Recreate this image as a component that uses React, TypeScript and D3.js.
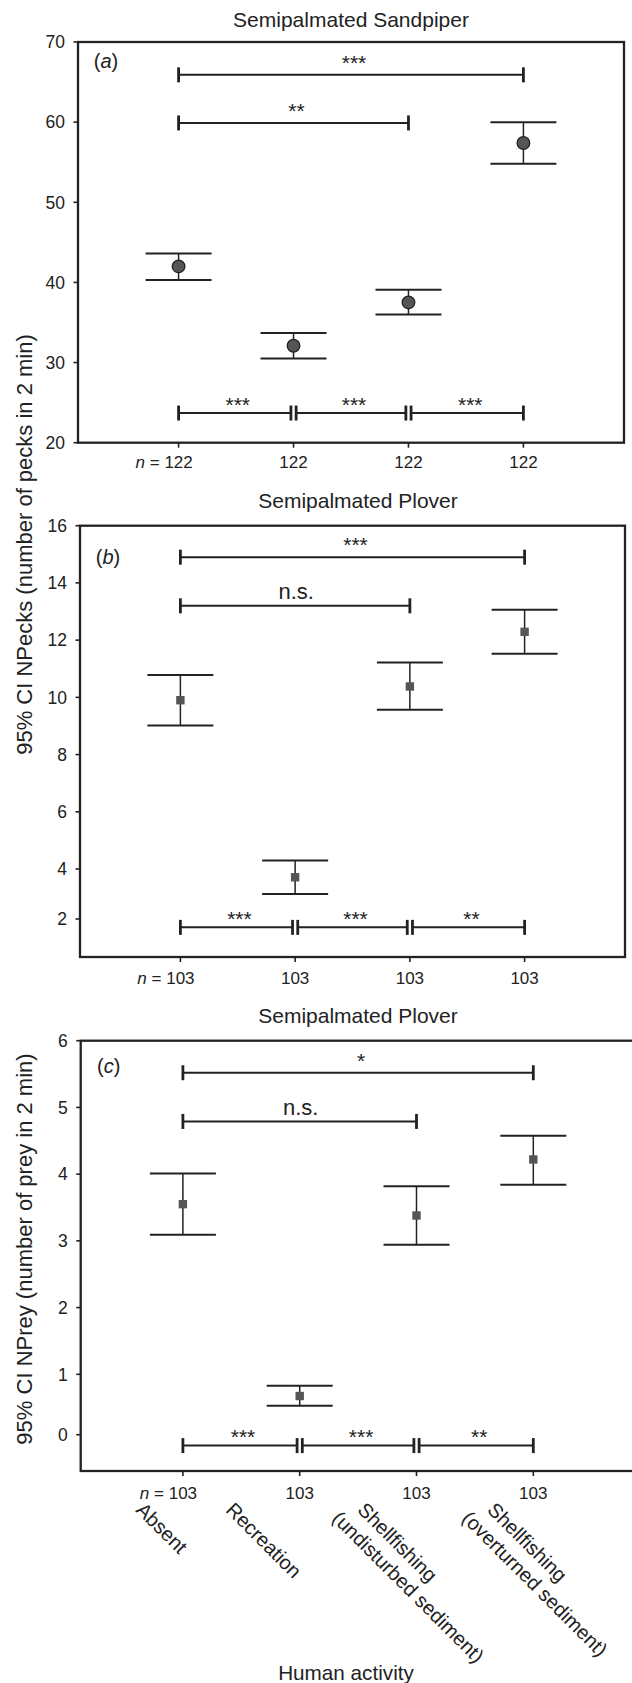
import React from 'react';
import * as d3 from 'd3';

// ---------- data ----------
const categoryLines: string[][] = [
  ['Absent'],
  ['Recreation'],
  ['Shellfishing', '(undisturbed sediment)'],
  ['Shellfishing', '(overturned sediment)'],
];

const sampleSizesSandpiper = [122, 122, 122, 122];
const sampleSizesPlover = [103, 103, 103, 103];

const sandpiperPecksMean = [42.0, 32.1, 37.5, 57.4];
const sandpiperPecksLow = [40.3, 30.5, 36.0, 54.8];
const sandpiperPecksHigh = [43.6, 33.7, 39.1, 60.0];

const ploverPecksMean = [9.9, 3.67, 10.38, 12.29];
const ploverPecksLow = [9.02, 3.0, 9.57, 11.52];
const ploverPecksHigh = [10.78, 4.3, 11.22, 13.06];

const ploverPreyMean = [3.55, 0.64, 3.38, 4.22];
const ploverPreyLow = [3.09, 0.48, 2.94, 3.84];
const ploverPreyHigh = [4.01, 0.81, 3.82, 4.575];

const ticksA = [20, 30, 40, 50, 60, 70];
const ticksB = [2, 4, 6, 8, 10, 12, 14, 16];
const ticksC = [0, 1, 2, 3, 4, 5, 6];

type Bracket = { from: number; to: number; label: string; level: number; bottom?: boolean };

const bracketsA: Bracket[] = [
  { from: 0, to: 3, label: '***', level: 65.9 },
  { from: 0, to: 2, label: '**', level: 59.9 },
  { from: 0, to: 1, label: '***', level: 23.7, bottom: true },
  { from: 1, to: 2, label: '***', level: 23.7, bottom: true },
  { from: 2, to: 3, label: '***', level: 23.7, bottom: true },
];
const bracketsB: Bracket[] = [
  { from: 0, to: 3, label: '***', level: 14.9 },
  { from: 0, to: 2, label: 'n.s.', level: 13.2 },
  { from: 0, to: 1, label: '***', level: 1.67, bottom: true },
  { from: 1, to: 2, label: '***', level: 1.67, bottom: true },
  { from: 2, to: 3, label: '**', level: 1.67, bottom: true },
];
const bracketsC: Bracket[] = [
  { from: 0, to: 3, label: '*', level: 5.52 },
  { from: 0, to: 2, label: 'n.s.', level: 4.79 },
  { from: 0, to: 1, label: '***', level: -0.18, bottom: true },
  { from: 1, to: 2, label: '***', level: -0.18, bottom: true },
  { from: 2, to: 3, label: '**', level: -0.18, bottom: true },
];

// ---------- layout ----------
const W = 632;
const H = 1683;
const FONT = "'Liberation Sans', Arial, Helvetica, sans-serif";
const INK = '#222';

type Panel = {
  letter: string;
  title: string;
  titleX: number;
  titleY: number;
  left: number;
  right: number;
  yDomain: number[];
  yRange: number[];
  ticks: number[];
  mean: number[];
  low: number[];
  high: number[];
  n: number[];
  nY: number;
  brackets: Bracket[];
  marker: 'circle' | 'square';
  letterY: number;
};

const panels: Panel[] = [
  {
    letter: 'a', title: 'Semipalmated Sandpiper', titleX: 351, titleY: 26.7,
    left: 78, right: 624, yDomain: [20, 70], yRange: [442.7, 42], ticks: ticksA,
    mean: sandpiperPecksMean, low: sandpiperPecksLow, high: sandpiperPecksHigh,
    n: sampleSizesSandpiper, nY: 468, brackets: bracketsA, marker: 'circle', letterY: 68,
  },
  {
    letter: 'b', title: 'Semipalmated Plover', titleX: 358, titleY: 507.7,
    left: 80, right: 625, yDomain: [0.5, 2, 4, 16], yRange: [957, 919, 869, 525.7], ticks: ticksB,
    mean: ploverPecksMean, low: ploverPecksLow, high: ploverPecksHigh,
    n: sampleSizesPlover, nY: 983.5, brackets: bracketsB, marker: 'square', letterY: 564,
  },
  {
    letter: 'c', title: 'Semipalmated Plover', titleX: 358, titleY: 1023.4,
    left: 80.7, right: 635.5, yDomain: [-0.6, 0, 1, 6], yRange: [1471, 1434.7, 1374.3, 1040.7], ticks: ticksC,
    mean: ploverPreyMean, low: ploverPreyLow, high: ploverPreyHigh,
    n: sampleSizesPlover, nY: 1499, brackets: bracketsC, marker: 'square', letterY: 1073,
  },
];

// rotated category label offsets (relative to tick)
const catLabelDx = [-48, -75, -60, -47];
const catLabelY = 1511;

function PanelView({ p }: { p: Panel }) {
  const x = d3.scalePoint<number>().domain(d3.range(4)).range([p.left, p.right]).padding(0.875);
  const y = d3.scaleLinear().domain(p.yDomain).range(p.yRange);
  const top = p.yRange[p.yRange.length - 1];
  const bottom = p.yRange[0];
  const cap = 33;

  return (
    <g>
      <text x={p.titleX} y={p.titleY} textAnchor="middle" fontSize={21} fill={INK}>{p.title}</text>
      <rect x={p.left} y={top} width={p.right - p.left} height={bottom - top} fill="none" stroke={INK} strokeWidth={2.3} />
      {p.ticks.map((t) => (
        <g key={'yt' + t}>
          <line x1={p.left - 4.5} x2={p.left} y1={y(t)} y2={y(t)} stroke={INK} strokeWidth={1.6} />
          <text x={p.left - 13} y={y(t)} dy="0.36em" textAnchor="end" fontSize={17.5} fill={INK}>{t}</text>
        </g>
      ))}
      {d3.range(4).map((i) => (
        <g key={'xt' + i}>
          <line x1={x(i)!} x2={x(i)!} y1={bottom} y2={bottom + 5} stroke={INK} strokeWidth={1.6} />
          <text x={x(i)!} y={p.nY} textAnchor="middle" fontSize={17} fill={INK}>{p.n[i]}</text>
          {i === 0 && (
            <text x={x(i)! - 19} y={p.nY} textAnchor="end" fontSize={17} fill={INK}>
              <tspan fontStyle="italic">n</tspan> =
            </text>
          )}
        </g>
      ))}
      {/* error bars */}
      {p.mean.map((m, i) => {
        const cx = x(i)!;
        return (
          <g key={'eb' + i}>
            <line x1={cx} x2={cx} y1={y(p.low[i])} y2={y(p.high[i])} stroke={INK} strokeWidth={1.5} />
            <line x1={cx - cap} x2={cx + cap} y1={y(p.low[i])} y2={y(p.low[i])} stroke={INK} strokeWidth={2} />
            <line x1={cx - cap} x2={cx + cap} y1={y(p.high[i])} y2={y(p.high[i])} stroke={INK} strokeWidth={2} />
            {p.marker === 'circle' ? (
              <circle cx={cx} cy={y(m)} r={6.3} fill="#555" stroke={INK} strokeWidth={1.3} />
            ) : (
              <rect x={cx - 4.2} y={y(m) - 4.2} width={8.4} height={8.4} fill="#555" />
            )}
          </g>
        );
      })}
      {/* significance brackets */}
      {p.brackets.map((b, k) => {
        const adjacent = b.to - b.from === 1 && b.bottom;
        const x1 = x(b.from)! + (adjacent && b.from > 0 ? 2.6 : 0);
        const x2 = x(b.to)! - (adjacent && b.to < 3 ? 2.6 : 0);
        const by = y(b.level);
        const isNs = b.label === 'n.s.';
        const ly = isNs ? by - 6.5 : by - (b.bottom ? 1.5 : 5);
        return (
          <g key={'br' + k}>
            <line x1={x1} x2={x2} y1={by} y2={by} stroke={INK} strokeWidth={2} />
            <line x1={x1} x2={x1} y1={by - 7.5} y2={by + 7.5} stroke={INK} strokeWidth={2.8} />
            <line x1={x2} x2={x2} y1={by - 7.5} y2={by + 7.5} stroke={INK} strokeWidth={2.8} />
            <text x={(x1 + x2) / 2 + (isNs ? 1 : 3)} y={ly} textAnchor="middle" fontSize={isNs ? 22 : 21} fill={INK}>{b.label}</text>
          </g>
        );
      })}
      <text x={p.left + 28} y={p.letterY} textAnchor="middle" fontSize={20} fill={INK}>
        (<tspan fontStyle="italic">{p.letter}</tspan>)
      </text>
    </g>
  );
}

export default function App() {
  const pc = panels[2];
  const xc = d3.scalePoint<number>().domain(d3.range(4)).range([pc.left, pc.right]).padding(0.875);
  return (
    <svg width={W} height={H} style={{ position: 'absolute', left: 0, top: 0, background: '#fff' }} fontFamily={FONT}>
      <rect x={0} y={0} width={W} height={H} fill="#fff" />
      {panels.map((p) => (
        <PanelView key={p.letter} p={p} />
      ))}
      <text transform="translate(32,544.5) rotate(-90)" textAnchor="middle" fontSize={22} fill={INK}>
        95% CI NPecks (number of pecks in 2 min)
      </text>
      <text transform="translate(32,1249) rotate(-90)" textAnchor="middle" fontSize={22} fill={INK}>
        95% CI NPrey (number of prey in 2 min)
      </text>
      {categoryLines.map((lines, i) => (
        <text key={'cat' + i} transform={`translate(${xc(i)! + catLabelDx[i]},${catLabelY}) rotate(45)`} fontSize={20} fill={INK}>
          {lines.map((ln, j) => (
            <tspan key={j} x={j === 0 ? 0 : -12} y={j * 24}>{ln}</tspan>
          ))}
        </text>
      ))}
      <text x={346} y={1680} textAnchor="middle" fontSize={20.7} fill={INK}>Human activity</text>
    </svg>
  );
}
